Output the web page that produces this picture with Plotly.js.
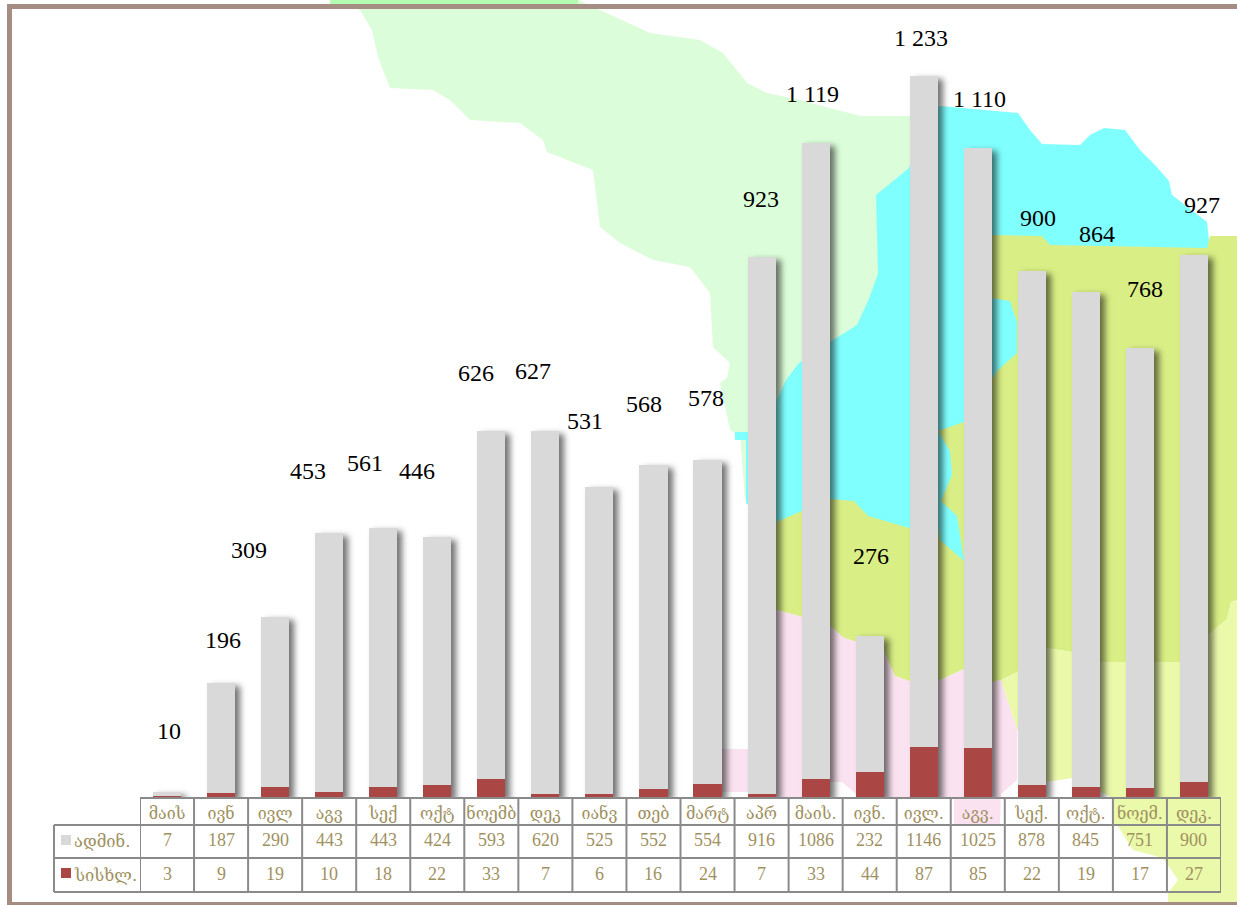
<!DOCTYPE html>
<html><head><meta charset="utf-8">
<script src="https://cdn.plot.ly/plotly-3.0.1.min.js"></script>
<style>html,body{margin:0;padding:0;background:#fff}#c{width:1237px;height:905px}
.barlayer{filter:drop-shadow(5px 3px 3px rgba(0,0,0,.55))}</style></head><body><div id="c"></div>
<script>
var months=['მაის','ივნ','ივლ','აგვ','სექ','ოქტ','ნოემბ','დეკ','იანვ','თებ','მარტ','აპრ','მაის.','ივნ.','ივლ.','აგვ.','სექ.','ოქტ.','ნოემ.','დეკ.'];
var admin=[7,187,290,443,443,424,593,620,525,552,554,916,1086,232,1146,1025,878,845,751,900];
var blood=[3,9,19,10,18,22,33,7,6,16,24,7,33,44,87,85,22,19,17,27];
var totalLabels=['10','196','309','453','561','446','626','627','531','568','578','923','1 119','276','1 233','1 110','900','864','768','927'];
var rowNames=['ადმინ.','სისხლ.'];

// label placement offsets (px) relative to bar top/centre
var labelDx=[2,2,-26,-21,-18,-20,-15,-12,-14,-9,-2,-1,-3,1,-3,2,6,11,5,8];
var labelDy=[61,43,67,62,65,66,58,60,66,61,62,58,49,80,38,49,53,58,59,50];

var W=1237,H=905,L=140,R=1221,B=798;
var PW=R-L,PH=B;
function px(x){return (x-L)/PW;}
function py(y){return (B-y)/PH;}
function path(pts){return 'M'+pts.map(function(p){return px(p[0]).toFixed(5)+','+py(p[1]).toFixed(5);}).join('L')+'Z';}
function poly(pts,col){return {type:'path',xref:'paper',yref:'paper',layer:'below',path:path(pts),fillcolor:col,line:{width:0}};}
function rect(x0,y0,x1,y1,col){return {type:'rect',xref:'paper',yref:'paper',layer:'below',x0:px(x0),x1:px(x1),y0:py(y0),y1:py(y1),fillcolor:col,line:{width:0}};}

// background map regions (pixel outlines)
var mapGreen=[[330,0],[578,0],[600,10],[650,33],[700,40],[723,53],[747,83],[767,93],[800,100],[837,110],[861,116],[945,116],[945,300],[800,500],[745,500],[740,433],[735,433],[730,430],[720,383],[727,378],[730,363],[713,347],[710,293],[690,267],[653,260],[620,243],[600,227],[593,170],[547,152],[543,140],[520,123],[470,120],[450,100],[433,90],[390,88],[378,57],[372,30],[360,10]];
var mapCyan=[[909,168],[925,116],[940,106],[1018,113],[1030,130],[1042,144],[1080,145],[1090,135],[1104,128],[1125,130],[1140,150],[1155,165],[1169,181],[1172,195],[1185,205],[1207,222],[1210,250],[1000,300],[1000,440],[964,565],[900,535],[776,530],[746,503],[746,440],[735,440],[735,432],[762,432],[786,380],[799,363],[830,342],[857,325],[868,301],[878,274],[876,195]];
var mapYellow=[[762,528],[830,499],[854,501],[868,516],[909,528],[938,531],[938,431],[964,422],[991,380],[991,235],[1042,236],[1050,245],[1207,248],[1210,236],[1237,236],[1237,600],[1231,602],[1227,619],[1207,636],[1180,662],[1100,662],[1072,652],[1046,648],[1017,672],[1001,680],[992,682],[964,669],[938,681],[909,681],[895,676],[883,650],[844,638],[830,626],[799,616],[762,606]];
var mapCyan2=[[991,298],[1010,301],[1017,322],[1017,353],[998,370],[991,380]];
var mapCyan3=[[938,431],[950,451],[952,475],[941,501],[957,516],[964,561],[940,540],[938,528]];
var mapPink=[[722,749],[762,749],[762,606],[799,616],[830,626],[844,638],[883,650],[895,676],[909,681],[938,681],[964,669],[992,682],[1001,680],[1017,729],[1017,780],[1001,794],[1000,825],[954,825],[954,798],[909,799],[883,799],[856,794],[842,782],[830,782],[800,798],[776,798],[762,792],[722,792]];
var mapLight=[[1001,680],[1017,672],[1046,648],[1072,652],[1100,662],[1180,662],[1207,636],[1227,619],[1231,602],[1237,600],[1237,902],[1168,902],[1168,893],[1178,880],[1163,858],[1133,850],[1117,825],[1113,825],[1113,798],[1072,778],[1046,782],[1017,729]];

var shapes=[
 poly(mapGreen,'#dcfdd9'),poly(mapCyan,'#80ffff'),poly(mapYellow,'#d9ee85'),
 poly(mapCyan2,'#80ffff'),poly(mapCyan3,'#80ffff'),poly(mapPink,'#fbe2f0'),poly(mapLight,'#ebf9ab'),
 rect(330,0,578,4,'#b4fdb0'),
 rect(7,4,1237,9,'#a58d84'),rect(7,4,12,905,'#a58d84'),rect(7,902,1237,905,'#a58d84')
];

// table grid
var gridCol='#8a8a8a',rowY=[798,825,858,892],labelX=54;
function gl(xr,x0,x1,y0,y1){return {type:'line',layer:'above',xref:xr,yref:'paper',x0:x0,x1:x1,y0:py(y0),y1:py(y1),line:{color:gridCol,width:2}};}
months.forEach(function(m,i){shapes.push(gl('x',i-0.5,i-0.5,rowY[0],rowY[3]));});
shapes.push(gl('x',months.length-0.5,months.length-0.5,rowY[0],rowY[3]));
shapes.push(gl('x',-0.5,months.length-0.5,rowY[0],rowY[0]));
rowY.slice(1).forEach(function(y){shapes.push(gl('paper',px(labelX),1,y,y));});
shapes.push(gl('paper',px(labelX),px(labelX),rowY[1],rowY[3]));

var ann=[];
var txt='#9f915f',serif='"Liberation Serif","DejaVu Serif",serif',geo='"DejaVu Serif","Liberation Serif",serif';
totalLabels.forEach(function(t,i){
 ann.push({xref:'x',yref:'y',x:i,y:admin[i]+blood[i],text:t,showarrow:false,xanchor:'center',yanchor:'middle',
  xshift:labelDx[i],yshift:labelDy[i],font:{family:'"Liberation Serif",serif',size:24,color:'#000'}});
});
[admin,blood].forEach(function(arr,r){
 var yc=(rowY[r+1]+rowY[r+2])/2-1;
 arr.forEach(function(v,i){
  ann.push({xref:'x',yref:'paper',x:i,y:py(yc),text:String(v),showarrow:false,xanchor:'center',yanchor:'middle',font:{family:serif,size:18,color:txt}});
 });
 ann.push({xref:'paper',yref:'paper',x:px(72),y:py(yc+1),text:rowNames[r],showarrow:false,xanchor:'left',yanchor:'middle',font:{family:geo,size:16.5,color:txt}});
});
shapes.push(rect(61,835,71,845,'#d9d9d9'));
shapes.push(rect(61,868,71,878,'#aa4643'));

Plotly.newPlot('c',[
 {type:'bar',name:'სისხლ.',x:months.map(function(m,i){return i;}),y:blood,marker:{color:'#aa4643',line:{width:0}},hoverinfo:'skip'},
 {type:'bar',name:'ადმინ.',x:months.map(function(m,i){return i;}),y:admin,marker:{color:'#d9d9d9',line:{width:0}},hoverinfo:'skip'}
],{
 width:W,height:H,margin:{l:L,r:W-R,t:0,b:H-B,pad:0},
 barmode:'stack',bargap:0.48,showlegend:false,
 paper_bgcolor:'rgba(0,0,0,0)',plot_bgcolor:'rgba(0,0,0,0)',
 xaxis:{range:[-0.5,months.length-0.5],tickmode:'array',tickvals:months.map(function(m,i){return i;}),ticktext:months,
  tickfont:{family:geo,size:16,color:txt},ticklen:1,tickcolor:'rgba(0,0,0,0)',showline:false,showgrid:false,zeroline:false,tickangle:0,automargin:false,fixedrange:true},
 yaxis:{range:[0,B/0.5856],visible:false,showgrid:false,zeroline:false,fixedrange:true},
 shapes:shapes,annotations:ann
},{displayModeBar:false,staticPlot:true});
</script></body></html>
